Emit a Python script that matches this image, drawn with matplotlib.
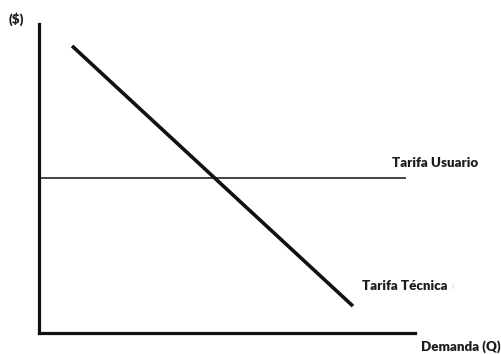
import matplotlib.pyplot as plt

# datos (escala arbitraria 0-100)
demanda_q = [8.8, 83.5]
tarifa_tecnica = [92.9, 8.7]
usuario_q = [0, 97.6]
tarifa_usuario = [50.2, 50.2]

W, H = 502, 354
fig = plt.figure(figsize=(W / 100, H / 100), dpi=100)

# ejes en pixeles: eje y en x=39, eje x en y=333
left, right, top, bottom = 39, 415, 24, 333
ax = fig.add_axes([left / W, (H - bottom) / H, (right - left) / W, (bottom - top) / H])
ax.set_xlim(0, 100)
ax.set_ylim(0, 100)

for s in ['top', 'right']:
    ax.spines[s].set_visible(False)
for s in ['left', 'bottom']:
    ax.spines[s].set_linewidth(2.3)
    ax.spines[s].set_color('#111111')
ax.set_xticks([])
ax.set_yticks([])

ax.plot(usuario_q, tarifa_usuario, color='#111111', lw=1.1, solid_capstyle='butt')
ax.plot(demanda_q, tarifa_tecnica, color='#111111', lw=2.6, solid_capstyle='butt')

fnt = dict(family=['Lato', 'DejaVu Sans'], fontweight='heavy', fontsize=9.6, color='#1c1c1c')
ax.text(93.9, 55.0, 'Tarifa Usuario', va='center', ha='left', clip_on=False, **fnt)
ax.text(85.9, 15.2, 'Tarifa Técnica', va='center', ha='left', clip_on=False, **fnt)
ax.text(109.6, 15.0, 'ı', va='center', ha='left', clip_on=False, family='DejaVu Sans',
        fontsize=6, color='#c8c8c8')
fig.text(421 / W, 1 - 347 / H, 'Demanda (Q)', va='center', ha='left', **fnt)
fig.text(9 / W, 1 - 19 / H, '($)', va='center', ha='left', **fnt)

fig.savefig('out.png', dpi=100)
